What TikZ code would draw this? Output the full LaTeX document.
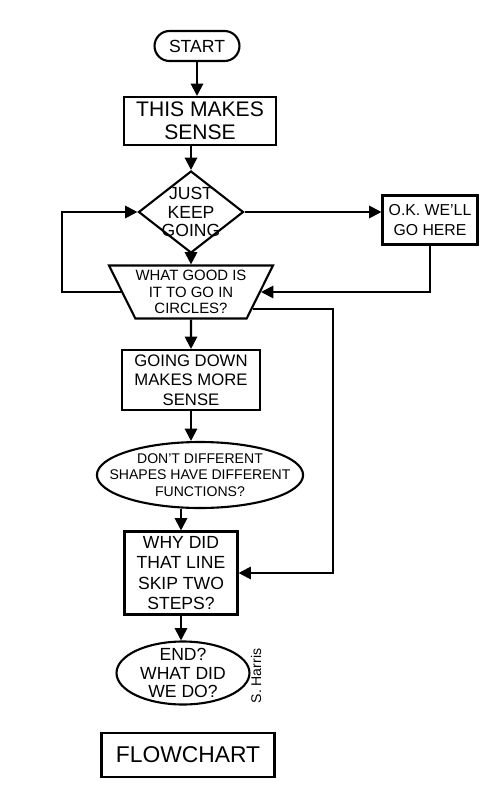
\documentclass[tikz,border=0pt]{standalone}
\usepackage{fontspec}
\setmainfont{Liberation Sans}
\usetikzlibrary{arrows.meta, shapes.geometric, shapes.misc}

\tikzset{
  schritt/.style={draw, line width=1.2pt, align=center, inner sep=2pt},
  pfeil/.style={line width=1.2pt, -{Triangle[length=7pt, width=7pt]}},
}

\begin{document}
\begin{tikzpicture}[
    x=0.02cm, y=-0.02cm,
    every node/.style={font=\fontsize{10}{11}\selectfont},
  ]
  \useasboundingbox (0,0) rectangle (500,805);

  % Hauptkette
  \node[schritt, rounded rectangle, minimum width=1.84cm, minimum height=0.6cm]
    (start) at (197,46) {START};
  \node[schritt, minimum width=3.04cm, minimum height=0.96cm,
        font=\fontsize{12}{13}\selectfont]
    (sinn) at (200,121) {THIS MAKES\\SENSE};
  \node[schritt, diamond, inner sep=-6pt, minimum width=2.1cm, minimum height=1.64cm,
        font=\fontsize{10}{10.5}\selectfont]
    (raute) at (191,212) {JUST\\KEEP\\GOING};
  \node[schritt, minimum width=1.9cm, minimum height=0.98cm,
        font=\fontsize{9}{11}\selectfont]
    (ok) at (430,220) {O.K. WE'LL\\GO HERE};
  \node[schritt, trapezium, trapezium left angle=118, trapezium right angle=118,
        trapezium stretches=true, inner xsep=0pt, inner ysep=1.5pt,
        minimum width=3.3cm, minimum height=1.06cm,
        font=\fontsize{8.5}{9.5}\selectfont]
    (kreis) at (191,292) {WHAT GOOD IS\\IT TO GO IN\\CIRCLES?};
  \node[schritt, minimum width=2.76cm, minimum height=1.2cm,
        font=\fontsize{9.5}{11}\selectfont]
    (runter) at (191,380) {GOING DOWN\\MAKES MORE\\SENSE};
  \node[schritt, ellipse, inner xsep=-10pt, inner ysep=-4pt,
        minimum width=4.12cm, minimum height=1.32cm,
        font=\fontsize{8}{9.5}\selectfont]
    (formen) at (200,475) {DON'T DIFFERENT\\SHAPES HAVE DIFFERENT\\FUNCTIONS?};
  \node[schritt, minimum width=2.26cm, minimum height=1.66cm,
        font=\fontsize{10}{11.5}\selectfont]
    (sprung) at (181,573) {WHY DID\\THAT LINE\\SKIP TWO\\STEPS?};
  \node[schritt, ellipse, inner sep=-5pt, minimum width=2.66cm, minimum height=1.26cm,
        font=\fontsize{10}{10.5}\selectfont]
    (ende) at (183,673) {END?\\WHAT DID\\WE DO?};
  \node[rotate=90, font=\fontsize{8}{9}\selectfont] (zeichen) at (256,676) {S. Harris};
  \node[schritt, minimum width=3.46cm, minimum height=0.88cm,
        font=\fontsize{13}{14}\selectfont]
    (titel) at (188,755) {FLOWCHART};

  % Schleifen
  \coordinate (links) at (62,250);
  \coordinate (rechts) at (333,430);

  % Pfeile
  \draw[pfeil] (start.south) -- (start.south |- sinn.north);
  \draw[pfeil] (raute.north |- sinn.south) -- (raute.north);
  \draw[pfeil] (raute.east) -- (raute.east -| ok.west);
  \draw[pfeil] (raute.south) -- (kreis.north);
  \draw[pfeil] (ok.south) |- (kreis.east);
  \draw[pfeil] (kreis.west) -| (links) |- (raute.west);
  \draw[pfeil] (kreis.-15) -| (rechts) |- (sprung.east);
  \draw[pfeil] (kreis.south) -- (runter.north);
  \draw[pfeil] (runter.south) -- (runter.south |- formen.north);
  \draw[pfeil] (formen.south -| sprung.north) -- (sprung.north);
  \draw[pfeil] (sprung.south) -- (sprung.south |- ende.north);
\end{tikzpicture}
\end{document}
